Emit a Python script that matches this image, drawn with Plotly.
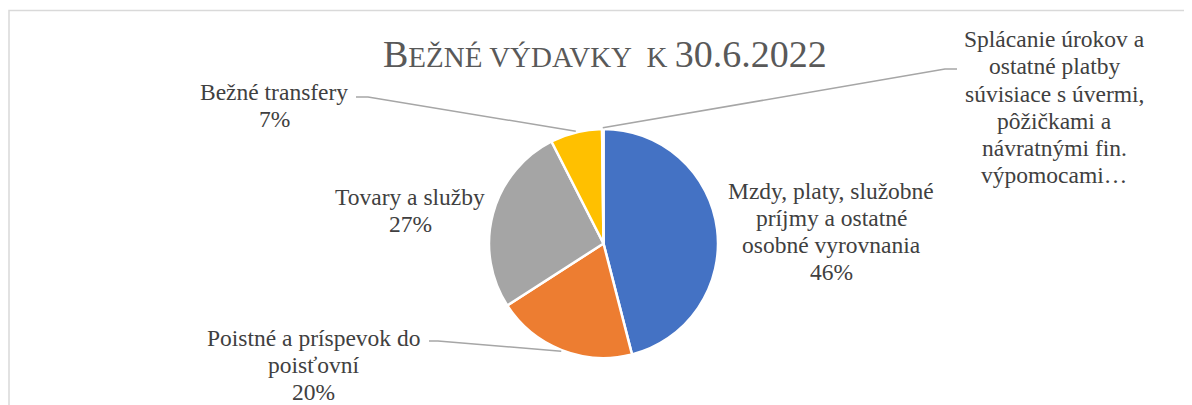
import math
import plotly.graph_objects as go

W, H = 1192, 405
OFF = 8  # the page body margin shifts the figure by this many pixels

categories = [
    "Mzdy, platy, služobné príjmy a ostatné osobné vyrovnania",
    "Poistné a príspevok do poisťovní",
    "Tovary a služby",
    "Bežné transfery",
    "Splácanie úrokov a ostatné platby súvisiace s úvermi, pôžičkami a návratnými fin. výpomocami",
]
shares = [46.0, 19.9, 26.6, 7.3, 0.2]
colors = ["#4472C4", "#ED7D31", "#A5A5A5", "#FFC000", "#5B9BD5"]

# label text wrapped the way it is printed on the chart
label_lines = [
    ["Mzdy, platy, služobné", "príjmy a ostatné", "osobné vyrovnania"],
    ["Poistné a príspevok do", "poisťovní"],
    ["Tovary a služby"],
    ["Bežné transfery"],
    ["Splácanie úrokov a", "ostatné platby", "súvisiace s úvermi,", "pôžičkami a",
     "návratnými fin.", "výpomocami…"],
]
show_pct = [True, True, True, True, False]

# layout (pixels in the final picture)
label_pos = [(831, 231), (313, 365), (410, 210), (274, 106), (1054, 107)]
leader_elbow = [None, [(429, 341), (438, 341)], None,
                [(356, 97), (368, 97)], [(957, 69), (945, 69)]]
pie_x = (489, 718)
pie_y = (129, 358)
LINE_GAP = 27

FONT = "Times New Roman, Liberation Serif, serif"


def px(x):
    return (x - OFF) / W


def py(y):
    return 1 - (y - OFF) / H


fig = go.Figure(go.Pie(
    labels=categories,
    values=shares,
    sort=False,
    direction="clockwise",
    rotation=0,
    marker=dict(colors=colors, line=dict(color="white", width=2.5)),
    textinfo="none",
    hoverinfo="label+percent",
    showlegend=False,
    domain=dict(x=[px(pie_x[0]), px(pie_x[1])], y=[py(pie_y[1]), py(pie_y[0])]),
))

total = sum(shares)
cx = (pie_x[0] + pie_x[1]) / 2
cy = (pie_y[0] + pie_y[1]) / 2
r = (pie_x[1] - pie_x[0]) / 2

annotations = []
shapes = []
cum = 0
for i, v in enumerate(shares):
    mid = (cum + v / 2) / total * 2 * math.pi
    cum += v
    lines = list(label_lines[i])
    if show_pct[i]:
        lines.append(f"{round(v / total * 100)}%")
    lx, ly = label_pos[i]
    n = len(lines)
    for k, t in enumerate(lines):
        annotations.append(dict(
            x=px(lx), y=py(ly + (k - (n - 1) / 2) * LINE_GAP),
            xref="paper", yref="paper", text=t,
            showarrow=False, xanchor="center", yanchor="middle",
            font=dict(family=FONT, size=23.5, color="#404040"),
        ))
    if leader_elbow[i]:
        ex = cx + r * 1.01 * math.sin(mid)
        ey = cy - r * 1.01 * math.cos(mid)
        pts = leader_elbow[i] + [(ex, ey)]
        path = "M " + " L ".join(f"{px(a)},{py(b)}" for a, b in pts)
        shapes.append(dict(type="path", xref="paper", yref="paper", path=path,
                           line=dict(color="#A6A6A6", width=1.5)))

# chart area border (runs off the right and bottom of the picture)
shapes.append(dict(type="rect", xref="paper", yref="paper",
                   x0=px(9), x1=1.05, y0=-0.05, y1=py(10.5),
                   line=dict(color="#D9D9D9", width=1.5)))

title = ("B<span style='font-size:29px'>EŽNÉ VÝDAVKY\u00a0\u00a0K\u00a0</span>"
         "30.6.2022")
annotations.append(dict(
    x=px(605), y=py(54), xref="paper", yref="paper", text=title,
    showarrow=False, xanchor="center", yanchor="middle",
    font=dict(family=FONT, size=38, color="#595959"),
))

fig.update_layout(
    width=W, height=H,
    margin=dict(l=0, r=0, t=0, b=0),
    paper_bgcolor="white",
    annotations=annotations,
    shapes=shapes,
)

fig.write_html("out.html")
